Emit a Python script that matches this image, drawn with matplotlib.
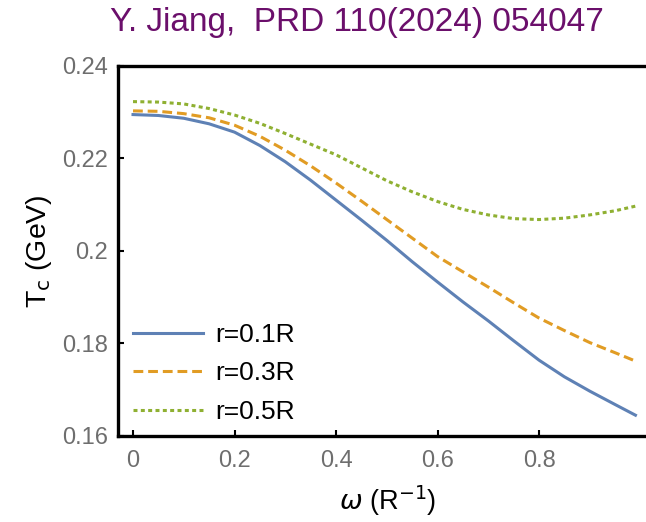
import matplotlib
matplotlib.use("Agg")
import matplotlib.pyplot as plt

omega = [0.0, 0.05, 0.1, 0.15, 0.2, 0.25, 0.3, 0.35, 0.4, 0.45, 0.5,
         0.55, 0.6, 0.65, 0.7, 0.75, 0.8, 0.85, 0.9, 0.95, 0.99]
tc_r01 = [0.2295, 0.2293, 0.2287, 0.2275, 0.2257, 0.2228, 0.2193, 0.2153, 0.2110, 0.2067, 0.2023,
          0.1977, 0.1933, 0.1890, 0.1849, 0.1806, 0.1764, 0.1728, 0.1697, 0.1668, 0.1645]
tc_r03 = [0.2303, 0.2302, 0.2297, 0.2288, 0.2272, 0.2248, 0.2218, 0.2184, 0.2147, 0.2108, 0.2068,
          0.2028, 0.1988, 0.1955, 0.1922, 0.1888, 0.1855, 0.1828, 0.1802, 0.1780, 0.1762]
tc_r05 = [0.2323, 0.2322, 0.2318, 0.2308, 0.2294, 0.2276, 0.2254, 0.2231, 0.2208, 0.2180, 0.2152,
          0.2128, 0.2107, 0.2090, 0.2078, 0.2070, 0.2068, 0.2071, 0.2078, 0.2087, 0.2097]
labels = ["r=0.1R", "r=0.3R", "r=0.5R"]
xticks = [0, 0.2, 0.4, 0.6, 0.8]
xticklabels = ["0", "0.2", "0.4", "0.6", "0.8"]
yticks = [0.16, 0.18, 0.2, 0.22, 0.24]
yticklabels = ["0.16", "0.18", "0.2", "0.22", "0.24"]

plt.rcParams['font.family'] = ['Liberation Sans', 'DejaVu Sans']

W, H = 646, 522
fig = plt.figure(figsize=(W / 100, H / 100), dpi=100)
ax = fig.add_axes([118 / W, (H - 436) / H, 540 / W, 370 / H])

lw = 2.2
ax.plot(omega, tc_r01, color="#5E81B5", lw=lw, label=labels[0])
ax.plot(omega, tc_r03, color="#E19C24", lw=lw, ls=(0, (3.2, 1.6)), label=labels[1])
ax.plot(omega, tc_r05, color="#8FB032", lw=lw, ls=(0, (1.3, 1.1)), label=labels[2])

ax.set_xlim(-0.0296, -0.0296 + 540 / 507.5)
ax.set_ylim(0.16, 0.24)
ax.set_xticks(xticks)
ax.set_xticklabels(xticklabels)
ax.set_yticks(yticks)
ax.set_yticklabels(yticklabels)
ax.tick_params(direction="in", length=4, width=1.5, labelsize=17, labelcolor="#6E6E6E",
               color="black")
ax.tick_params(axis="x", pad=10)
ax.tick_params(axis="y", pad=7)
for s in ["left", "bottom", "top"]:
    ax.spines[s].set_linewidth(2.4)
ax.spines["right"].set_visible(False)

ax.set_xlabel(r"$\omega$ (R$^{-1}$)", fontsize=19.5, labelpad=8)
ax.set_ylabel(r"T$_\mathrm{c}$ (GeV)", fontsize=20.5, labelpad=6)

leg = ax.legend(loc="lower left", bbox_to_anchor=((133 - 118) / 540, 12 / 370), frameon=False,
                fontsize=19, handlelength=2.65, handletextpad=0.45, labelspacing=0.55,
                borderaxespad=0.0, borderpad=0.0)

fig.text(357 / W, 1 - 22 / H, "Y. Jiang,  PRD 110(2024) 054047", color="#6B0F6B",
         fontsize=24, ha="center", va="center")

fig.savefig("out.png", dpi=100)
